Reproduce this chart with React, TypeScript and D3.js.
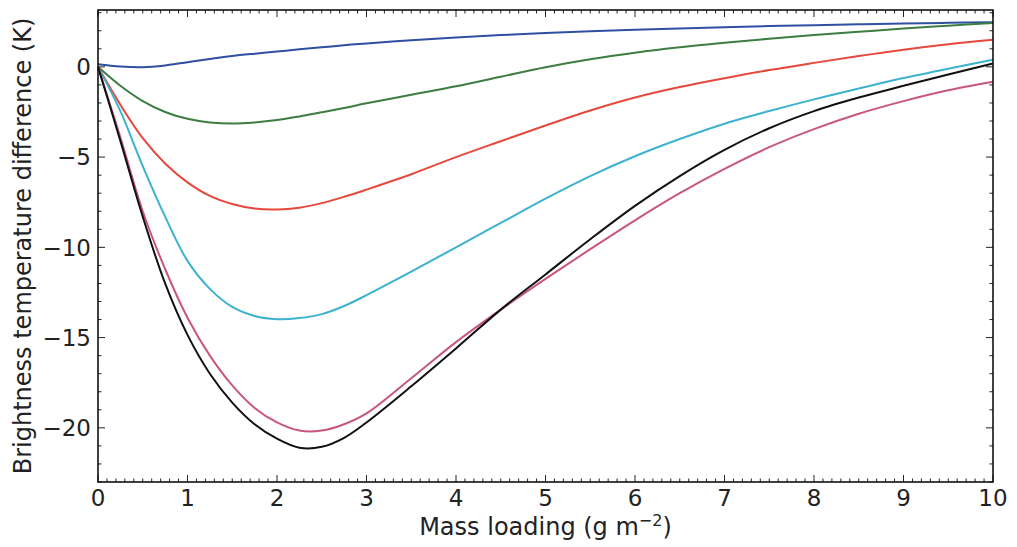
import React from 'react';
import * as d3 from 'd3';

const massLoading = [0, 0.25, 0.5, 0.75, 1, 1.25, 1.5, 1.75, 2, 2.25, 2.5, 2.75, 3, 3.5, 4, 4.5, 5, 5.5, 6, 6.5, 7, 7.5, 8, 8.5, 9, 9.5, 10];

const seriesBlue = [0.15, 0.02, -0.02, 0.08, 0.26, 0.44, 0.6, 0.73, 0.85, 0.97, 1.08, 1.2, 1.3, 1.48, 1.63, 1.76, 1.87, 1.97, 2.06, 2.13, 2.2, 2.26, 2.31, 2.36, 2.4, 2.44, 2.47];
const seriesGreen = [0, -1.05, -1.9, -2.5, -2.88, -3.08, -3.14, -3.08, -2.95, -2.75, -2.52, -2.28, -2.02, -1.55, -1.08, -0.55, -0.02, 0.42, 0.78, 1.08, 1.33, 1.56, 1.76, 1.94, 2.12, 2.28, 2.43];
const seriesRed = [0, -2.1, -3.95, -5.35, -6.4, -7.15, -7.6, -7.85, -7.9, -7.8, -7.55, -7.2, -6.8, -5.95, -5.0, -4.12, -3.25, -2.42, -1.7, -1.12, -0.63, -0.18, 0.22, 0.6, 0.95, 1.25, 1.5];
const seriesCyan = [0, -2.45, -5.5, -8.3, -10.75, -12.3, -13.3, -13.8, -13.98, -13.92, -13.7, -13.25, -12.65, -11.35, -10.0, -8.65, -7.3, -6.05, -4.95, -4.0, -3.15, -2.45, -1.8, -1.2, -0.62, -0.1, 0.39];
const seriesPink = [0, -3.9, -8.0, -11.2, -13.9, -16.0, -17.65, -18.9, -19.7, -20.15, -20.15, -19.8, -19.2, -17.25, -15.25, -13.45, -11.75, -10.1, -8.5, -7.0, -5.65, -4.45, -3.45, -2.6, -1.9, -1.3, -0.83];
const seriesBlack = [0, -4.1, -8.3, -12.0, -14.85, -17.0, -18.6, -19.8, -20.6, -21.1, -21.05, -20.55, -19.7, -17.7, -15.6, -13.45, -11.5, -9.55, -7.7, -6.05, -4.6, -3.4, -2.45, -1.7, -1.05, -0.42, 0.19];

const xTicks = [0, 1, 2, 3, 4, 5, 6, 7, 8, 9, 10];
const yTicks = [0, -5, -10, -15, -20];

const seriesList = [
  { values: seriesBlue, color: '#2f4fa2' },
  { values: seriesGreen, color: '#3d7d42' },
  { values: seriesRed, color: '#e6483c' },
  { values: seriesCyan, color: '#3cb2d0' },
  { values: seriesPink, color: '#c9567f' },
  { values: seriesBlack, color: '#111111' },
];

const fmt = (v: number) => (v < 0 ? '\u2212' + Math.abs(v) : String(v));

export default function App() {
  const W = 1017, H = 547;
  const L = 98, R = 993, T = 10, B = 482;
  const x = d3.scaleLinear().domain([0, 10]).range([L, R]);
  const y = d3.scaleLinear().domain([-23, 3.15]).range([B, T]);
  const line = d3.line<number>()
    .x((_, i) => x(massLoading[i]))
    .y((d) => y(d))
    .curve(d3.curveCatmullRom.alpha(0.5));

  const xMinor = d3.range(0, 100.5, 1).map((k) => k / 10).filter((v) => Math.abs(v - Math.round(v)) > 1e-6);
  const yMinor = d3.range(-23, 4, 1).filter((v) => v % 5 !== 0 && y(v) >= T && y(v) <= B);
  const font = 'DejaVu Sans, sans-serif';
  const maj = 7, min = 3.5;

  return (
    <svg width={W} height={H} style={{ position: 'absolute', left: 0, top: 0, background: '#fff' }}>
      <rect x={0} y={0} width={W} height={H} fill="#fff" />
      <g>
        {seriesList.map((s, i) => (
          <path key={i} d={line(s.values) || ''} fill="none" stroke={s.color} strokeWidth={2} strokeLinejoin="round" />
        ))}
      </g>
      <g stroke="#222" strokeWidth={1}>
        {xTicks.map((t) => (
          <g key={'xt' + t}>
            <line x1={x(t)} x2={x(t)} y1={B} y2={B - maj} />
            <line x1={x(t)} x2={x(t)} y1={T} y2={T + maj} />
          </g>
        ))}
        {xMinor.map((t) => (
          <g key={'xm' + t}>
            <line x1={x(t)} x2={x(t)} y1={B} y2={B - min} />
            <line x1={x(t)} x2={x(t)} y1={T} y2={T + min} />
          </g>
        ))}
        {yTicks.map((t) => (
          <g key={'yt' + t}>
            <line x1={L} x2={L + maj} y1={y(t)} y2={y(t)} />
            <line x1={R} x2={R - maj} y1={y(t)} y2={y(t)} />
          </g>
        ))}
        {yMinor.map((t) => (
          <g key={'ym' + t}>
            <line x1={L} x2={L + min} y1={y(t)} y2={y(t)} />
            <line x1={R} x2={R - min} y1={y(t)} y2={y(t)} />
          </g>
        ))}
      </g>
      <rect x={L} y={T} width={R - L} height={B - T} fill="none" stroke="#111" strokeWidth={1.6} />
      <g fontFamily={font} fontSize={23} fill="#222">
        {xTicks.map((t) => (
          <text key={'xl' + t} x={x(t)} y={506} textAnchor="middle">{fmt(t)}</text>
        ))}
        {yTicks.map((t) => (
          <text key={'yl' + t} x={91} y={y(t)} dy="0.36em" textAnchor="end">{fmt(t)}</text>
        ))}
      </g>
      <text x={(L + R) / 2} y={535} textAnchor="middle" fontFamily={font} fontSize={24} fill="#222">
        Mass loading (g m<tspan dy={-9} fontSize={16}>{'\u22122'}</tspan><tspan dy={9}>)</tspan>
      </text>
      <text transform={`translate(31,${(T + B) / 2}) rotate(-90)`} textAnchor="middle" fontFamily={font} fontSize={24} fill="#222">
        Brightness temperature difference (K)
      </text>
    </svg>
  );
}
